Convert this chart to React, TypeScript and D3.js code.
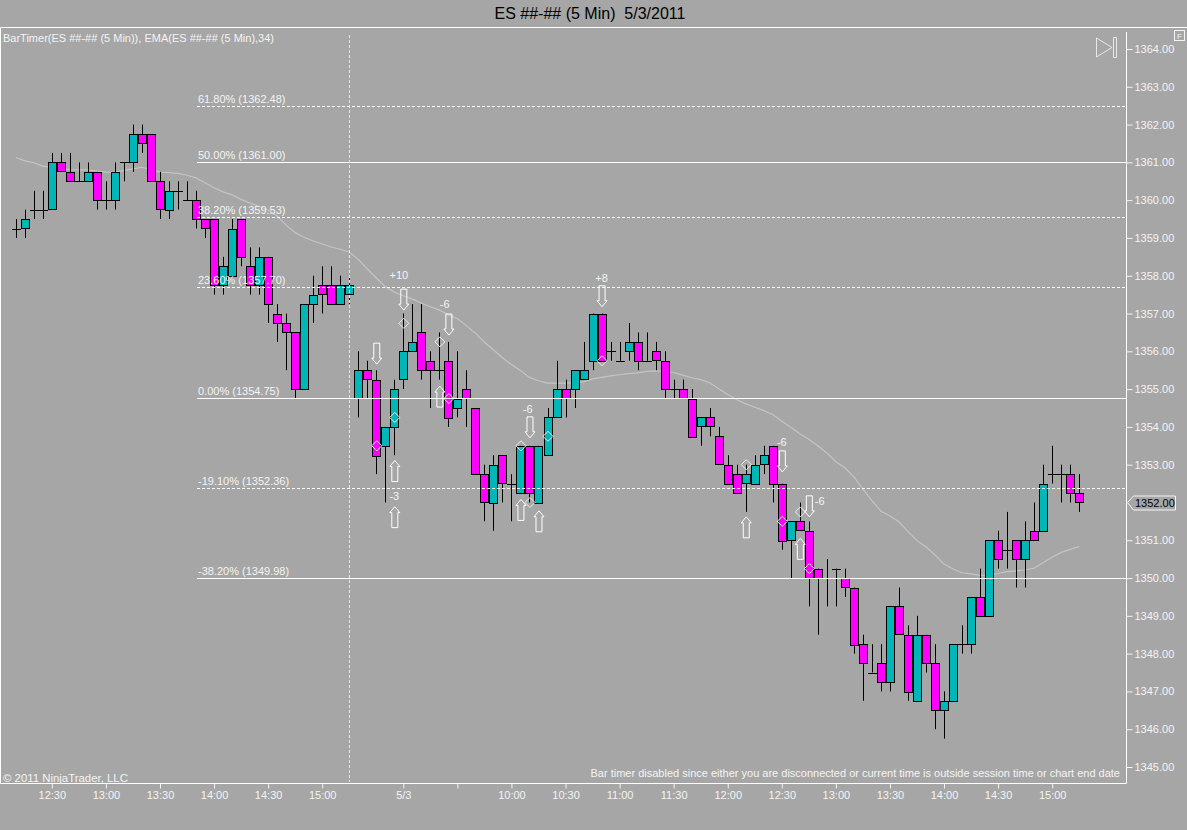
import { useRef, useEffect } from "react";
import * as d3 from "d3";

const opens = [
  1359.25, 1359.25, 1359.75, 1359.75, 1359.75, 1361, 1360.75, 1360.5, 1360.5, 1360.75,
  1360, 1360, 1361, 1361, 1361.75, 1361.75, 1360.5, 1359.75, 1360.25, 1360,
  1360, 1359.5, 1359.5, 1357.75, 1358, 1359.5, 1358.25, 1357.75, 1358.5, 1357,
  1356.75, 1356.5, 1355, 1357.25, 1357.75, 1357.75, 1357.25, 1357.5, 1354.75, 1355.5,
  1355.25, 1353.5, 1354, 1355.25, 1356, 1356.5, 1355.75, 1355.5, 1355.75, 1354.5,
  1355, 1354.5, 1352.75, 1352, 1353.25, 1352.5, 1352.25, 1353.5, 1352, 1353.25,
  1354.25, 1355, 1355, 1355.25, 1355.75, 1357, 1356, 1355.75, 1356, 1356.25,
  1355.75, 1356, 1355.75, 1355, 1355, 1354.75, 1354, 1354.25, 1353.75, 1353,
  1352.75, 1352.5, 1352.5, 1353, 1353.5, 1352.5, 1351, 1351.5, 1351.25, 1350.25,
  1350, 1350.25, 1350, 1349.75, 1348.25, 1347.5, 1347.75, 1347.25, 1349.25, 1348.5,
  1346.75, 1348.5, 1347.75, 1346.5, 1346.75, 1348.25, 1348.25, 1349.5, 1349, 1351,
  1350.75, 1351, 1350.5, 1351.25, 1351.25, 1352.75, 1352.75, 1352.75, 1352.25,
];

const closes = [
  1359.25, 1359.5, 1359.75, 1359.75, 1361, 1360.75, 1360.5, 1360.5, 1360.75, 1360,
  1360, 1360.75, 1361, 1361.75, 1361.5, 1360.5, 1359.75, 1360.25, 1360.25, 1360,
  1359.5, 1359.25, 1357.75, 1358.25, 1359.25, 1358.5, 1357.75, 1358.5, 1357.25, 1356.75,
  1356.5, 1355, 1357.25, 1357.5, 1357.5, 1357.25, 1357.75, 1357.75, 1355.5, 1355.25,
  1353.25, 1354, 1355, 1356, 1356.25, 1355.5, 1355.5, 1355.5, 1354.25, 1354.75,
  1354.75, 1352.75, 1352, 1353, 1352.5, 1352.5, 1353.5, 1352.25, 1353.5, 1354.25,
  1355, 1354.75, 1355.5, 1355.5, 1357, 1355.75, 1356, 1355.75, 1356.25, 1355.75,
  1355.75, 1355.75, 1355, 1355, 1354.75, 1353.75, 1354.25, 1354, 1353, 1352.5,
  1352.25, 1352.75, 1353, 1353.25, 1352.5, 1351, 1351.5, 1351.25, 1350, 1350,
  1350, 1350.25, 1349.75, 1348.25, 1347.75, 1347.5, 1347.25, 1349.25, 1348.5, 1347,
  1348.5, 1347.75, 1346.5, 1346.75, 1348.25, 1348.25, 1349.5, 1349, 1351, 1350.5,
  1350.75, 1350.5, 1351, 1351, 1352.5, 1352.75, 1352.75, 1352.25, 1352,
];

const highs = [
  1359.5, 1359.75, 1360.25, 1360.25, 1361.25, 1361.25, 1361.25, 1361, 1361, 1360.75,
  1360.5, 1361, 1361, 1362, 1362, 1361.75, 1360.75, 1360.5, 1360.5, 1360.5,
  1360.25, 1359.5, 1359.5, 1358.5, 1359.5, 1359.5, 1358.75, 1358.75, 1358.5, 1357.25,
  1357, 1356.5, 1357.25, 1358, 1358.25, 1358.25, 1358, 1358, 1356, 1355.75,
  1355.5, 1354, 1355.25, 1357, 1357.25, 1357.25, 1356, 1356.5, 1356.25, 1356,
  1355.5, 1354.5, 1353, 1353.25, 1353.25, 1352.75, 1353.5, 1353.5, 1353.5, 1354.5,
  1355.75, 1355.25, 1355.5, 1356.25, 1357, 1357, 1356.25, 1356.25, 1356.75, 1356.5,
  1356.5, 1356.25, 1356, 1355.25, 1355.25, 1355, 1354.25, 1354.5, 1354, 1353.25,
  1353, 1353, 1353.25, 1353.5, 1353.5, 1352.5, 1351.5, 1352, 1351.5, 1350.25,
  1350.5, 1350.25, 1350.25, 1349.75, 1348.5, 1348.25, 1348.25, 1349.25, 1349.75, 1348.75,
  1349, 1348.5, 1348.25, 1347, 1348.25, 1348.75, 1349.5, 1350.25, 1351, 1351.25,
  1351.75, 1351, 1351.5, 1352, 1353, 1353.5, 1353, 1353, 1352.75,
];

const lows = [
  1359, 1359, 1359.5, 1359.5, 1359.75, 1360.75, 1360.5, 1360.5, 1360.5, 1359.75,
  1359.75, 1359.75, 1360.5, 1360.75, 1361.25, 1360.5, 1359.5, 1359.5, 1359.75, 1360,
  1359.25, 1359, 1357.5, 1357.5, 1358, 1358.25, 1357.5, 1357.5, 1356.75, 1356.25,
  1355.5, 1354.75, 1355, 1356.75, 1357, 1357.25, 1357.25, 1357.25, 1354.25, 1354.75,
  1352.75, 1352, 1353.25, 1355, 1356, 1355.25, 1354.5, 1355.25, 1354, 1354.25,
  1354, 1352.75, 1351.5, 1351.25, 1352, 1351.5, 1352.25, 1352, 1352, 1353.25,
  1354.25, 1354.25, 1354.5, 1355.25, 1355.5, 1355.75, 1355.75, 1355.75, 1355.75, 1355.5,
  1355.75, 1355.5, 1354.75, 1354.75, 1354.75, 1353.75, 1353.5, 1353.75, 1353, 1352.5,
  1352.25, 1351.75, 1352.5, 1352.75, 1352, 1350.75, 1350, 1351.25, 1349.25, 1348.5,
  1349.25, 1349.25, 1349.5, 1348, 1346.75, 1347.5, 1347, 1347, 1348.5, 1346.75,
  1346.75, 1347.5, 1346, 1345.75, 1346.75, 1348, 1348, 1349, 1349, 1350.25,
  1350.25, 1349.75, 1349.75, 1351, 1351.25, 1352.5, 1352, 1352, 1351.75,
];

// EMA(34)
const ema = [
  1361.13, 1361.04, 1360.99, 1360.9, 1360.87, 1360.84, 1360.81, 1360.8, 1360.8, 1360.77,
  1360.74, 1360.73, 1360.79, 1360.83, 1360.87, 1360.81, 1360.74, 1360.73, 1360.71, 1360.66,
  1360.59, 1360.46, 1360.33, 1360.22, 1360.14, 1360.02, 1359.92, 1359.84, 1359.74, 1359.58,
  1359.34, 1359.14, 1359.02, 1358.92, 1358.84, 1358.76, 1358.7, 1358.63, 1358.43, 1358.18,
  1357.94, 1357.71, 1357.57, 1357.47, 1357.38, 1357.28, 1357.18, 1357.09, 1356.97, 1356.86,
  1356.68, 1356.48, 1356.24, 1356.04, 1355.83, 1355.65, 1355.49, 1355.31, 1355.22, 1355.16,
  1355.16, 1355.16, 1355.17, 1355.19, 1355.27, 1355.31, 1355.35, 1355.38, 1355.41, 1355.43,
  1355.47, 1355.48, 1355.46, 1355.44, 1355.37, 1355.3, 1355.25, 1355.17, 1355.01, 1354.86,
  1354.72, 1354.61, 1354.52, 1354.43, 1354.33, 1354.15, 1353.99, 1353.82, 1353.67, 1353.5,
  1353.31, 1353.08, 1352.92, 1352.68, 1352.35, 1352.05, 1351.77, 1351.64, 1351.49, 1351.23,
  1350.99, 1350.83, 1350.61, 1350.37, 1350.24, 1350.14, 1350.11, 1350.07, 1350.08, 1350.12,
  1350.17, 1350.19, 1350.22, 1350.26, 1350.41, 1350.55, 1350.68, 1350.76, 1350.83,
];

const priceTicks = [
  1364, 1363, 1362, 1361, 1360, 1359, 1358, 1357, 1356, 1355, 1354, 1353, 1351, 1350,
  1349, 1348, 1347, 1346, 1345,
];
const lastPrice = 1352;

const timeTickBars = [4, 10, 16, 22, 28, 34, 43, 49, 55, 61, 67, 73, 79, 85, 91, 97, 103, 109, 115];
const timeTickLabels = [
  "12:30", "13:00", "13:30", "14:00", "14:30", "15:00", "5/3", "", "10:00", "10:30",
  "11:00", "11:30", "12:00", "12:30", "13:00", "13:30", "14:00", "14:30", "15:00",
];

const fibLevels = [61.8, 50, 38.2, 23.6, 0, -19.1, -38.2];
const fibPrices = [1362.48, 1361, 1359.53, 1357.7, 1354.75, 1352.36, 1349.98];
const fibDashed = [true, false, true, true, false, true, false];

const downArrowBars = [40, 43, 48, 57, 65, 85, 88];
const downArrowPrices = [1355.66, 1357.09, 1356.43, 1353.71, 1357.18, 1352.81, 1351.62];
const upArrowBars = [42, 42, 47, 56, 58, 81, 87];
const upArrowPrices = [1353.11, 1351.89, 1355.08, 1352.08, 1351.78, 1351.62, 1351.05];
const diamondBars = [40, 42, 43, 47, 48, 56, 57, 59, 65, 81, 85, 87, 88];
const diamondPrices = [
  1353.5, 1354.25, 1356.74, 1356.25, 1354.75, 1353.5, 1352, 1353.75, 1355.75, 1353, 1351.5,
  1351.75, 1350.25,
];
const tradeLabels = ["+10", "-6", "-3", "-6", "+8", "-6", "-6"];
const tradeLabelBars = [42.5, 47.6, 42, 56.8, 65, 85, 89.2];
const tradeLabelPrices = [1358.01, 1357.25, 1352.17, 1354.47, 1357.94, 1353.6, 1352.04];

const BG = "#a6a6a6";
const TEXT = "#f4f4f4";
const CYAN = "#00b7b7";
const MAGENTA = "#ff00ff";
const FONT_SIZE = 11;

const App = () => {
  const chartRef = useRef<SVGSVGElement>(null);

  useEffect(() => {
    if (!chartRef.current) {
      return;
    }
    const svg = d3.select(chartRef.current);
    svg.selectAll("*").remove();

    const x = d3.scaleLinear().domain([0, 118]).range([15.8, 1079.2]);
    const y = d3.scaleLinear().domain([1364, 1345]).range([49, 767]);
    const font = "'Liberation Sans', Arial, sans-serif";

    const addText = (tx: number, ty: number, s: string, anchor = "start") =>
      svg
        .append("text")
        .attr("x", tx)
        .attr("y", ty)
        .attr("text-anchor", anchor)
        .attr("font-family", font)
        .attr("font-size", FONT_SIZE)
        .attr("fill", TEXT)
        .text(s);

    svg.append("rect").attr("width", 1187).attr("height", 830).attr("fill", BG);

    addText(590, 18.5, "ES ##-## (5 Min)  5/3/2011", "middle")
      .attr("font-size", 16)
      .attr("fill", "#000")
      .style("white-space", "pre");

    // frame of the panel
    svg
      .append("path")
      .attr("d", "M0.5,784V27.5H1187M0,783.5H1126.5V32")
      .attr("fill", "none")
      .attr("stroke", "#fff");

    // F box and the jump-to-end button
    svg
      .append("rect")
      .attr("x", 1174.5)
      .attr("y", 30.5)
      .attr("width", 10)
      .attr("height", 10)
      .attr("fill", "none")
      .attr("stroke", "#f4f4f4");
    addText(1179.5, 39, "F", "middle").attr("font-size", 8);
    svg
      .append("path")
      .attr("d", "M1096.5,38L1112,47.5L1096.5,57ZM1113.5,37.5h3v20h-3Z")
      .attr("fill", "none")
      .attr("stroke", "#e8e8e8");

    // EMA sits behind the candles
    const emaLine = d3
      .line<number>()
      .x((_, i) => x(i))
      .y((d) => y(d));
    svg
      .append("path")
      .attr("d", emaLine(ema))
      .attr("fill", "none")
      .attr("stroke", "#c4c4c4")
      .attr("stroke-width", 1.2);

    const bars = svg.append("g").selectAll("g").data(d3.range(opens.length)).join("g");

    // wicks
    bars
      .append("line")
      .attr("x1", (d) => Math.round(x(d)) + 0.5)
      .attr("x2", (d) => Math.round(x(d)) + 0.5)
      .attr("y1", (d) => y(highs[d]))
      .attr("y2", (d) => y(lows[d]))
      .attr("stroke", "#000");

    // bodies
    bars
      .filter((d) => opens[d] !== closes[d])
      .append("rect")
      .attr("x", (d) => Math.round(x(d)) - 3.5)
      .attr("width", 8)
      .attr("y", (d) => Math.round(y(Math.max(opens[d], closes[d]))) + 0.5)
      .attr("height", (d) => Math.round(Math.abs(y(opens[d]) - y(closes[d]))))
      .attr("fill", (d) => (closes[d] > opens[d] ? CYAN : MAGENTA))
      .attr("stroke", "#000");

    // a flat bar is a plain dash
    bars
      .filter((d) => opens[d] === closes[d])
      .append("line")
      .attr("x1", (d) => Math.round(x(d)) - 4)
      .attr("x2", (d) => Math.round(x(d)) + 5)
      .attr("y1", (d) => Math.round(y(opens[d])) + 0.5)
      .attr("y2", (d) => Math.round(y(opens[d])) + 0.5)
      .attr("stroke", "#000");

    // fib retracement levels
    const fib = svg.append("g").selectAll("g").data(fibPrices).join("g");
    fib
      .append("line")
      .attr("x1", 197)
      .attr("x2", 1126)
      .attr("y1", (d) => Math.floor(y(d)) + 0.5)
      .attr("y2", (d) => Math.floor(y(d)) + 0.5)
      .attr("stroke", "#fff")
      .attr("stroke-dasharray", (_, i) => (fibDashed[i] ? "3,2" : null));
    fib
      .append("text")
      .attr("x", 198)
      .attr("y", (d) => y(d) - 3.5)
      .attr("font-family", font)
      .attr("font-size", FONT_SIZE)
      .attr("fill", TEXT)
      .text((d, i) => `${fibLevels[i].toFixed(2)}% (${d.toFixed(2)})`);

    // session break
    svg
      .append("line")
      .attr("x1", 349.5)
      .attr("x2", 349.5)
      .attr("y1", 35)
      .attr("y2", 782)
      .attr("stroke", "#e8e8e8")
      .attr("stroke-dasharray", "3,2");

    // entries and exits
    const arrowDown = "M0,0L-5,-6H-3V-21H3V-6H5Z";
    const arrowUp = "M0,0L-5,6H-3V21H3V6H5Z";
    svg
      .append("g")
      .selectAll("path")
      .data(downArrowBars)
      .join("path")
      .attr("transform", (d, i) => `translate(${x(d) + 0.5},${y(downArrowPrices[i])})`)
      .attr("d", arrowDown)
      .attr("fill", "none")
      .attr("stroke", "#fff");
    svg
      .append("g")
      .selectAll("path")
      .data(upArrowBars)
      .join("path")
      .attr("transform", (d, i) => `translate(${x(d) + 0.5},${y(upArrowPrices[i])})`)
      .attr("d", arrowUp)
      .attr("fill", "none")
      .attr("stroke", "#fff");
    svg
      .append("g")
      .selectAll("path")
      .data(diamondBars)
      .join("path")
      .attr("transform", (d, i) => `translate(${x(d) + 0.5},${y(diamondPrices[i])})`)
      .attr("d", "M0,-5L5,0L0,5L-5,0Z")
      .attr("fill", "none")
      .attr("stroke", "#f0f0f0");
    tradeLabels.forEach((s, i) => {
      addText(x(tradeLabelBars[i]), y(tradeLabelPrices[i]) + 4, s, "middle");
    });

    // axes
    const yAxis = svg
      .append("g")
      .attr("transform", "translate(1126.5,0)")
      .call(d3.axisRight(y).tickValues(priceTicks).tickFormat((d) => (+d).toFixed(2)).tickSize(6).tickPadding(2));
    const xAxis = svg
      .append("g")
      .attr("transform", "translate(0,783.5)")
      .call(
        d3
          .axisBottom(x)
          .tickValues(timeTickBars)
          .tickFormat((_, i) => timeTickLabels[i])
          .tickSize(5)
          .tickPadding(3)
      );
    [yAxis, xAxis].forEach((axis) => {
      axis.select(".domain").remove();
      axis.selectAll("line").attr("stroke", "#f4f4f4");
      axis
        .selectAll("text")
        .attr("fill", TEXT)
        .attr("font-family", font)
        .attr("font-size", FONT_SIZE);
    });

    // last price marker
    const ly = Math.round(y(lastPrice)) + 0.5;
    svg
      .append("path")
      .attr("d", `M1127.5,${ly}l6,-6.5h42v14h-42Z`)
      .attr("fill", BG)
      .attr("stroke", "#f4f4f4");
    addText(1135, ly + 4, lastPrice.toFixed(2)).attr("fill", "#000");

    addText(3, 41.5, "BarTimer(ES ##-## (5 Min)), EMA(ES ##-## (5 Min),34)");
    addText(3, 781.5, "© 2011 NinjaTrader, LLC").attr("font-size", 11.4);
    addText(
      1120,
      776.5,
      "Bar timer disabled since either you are disconnected or current time is outside session time or chart end date",
      "end"
    );
  }, []);

  return (
    <svg
      ref={chartRef}
      width="1187"
      height="830"
      style={{ position: "absolute", left: 0, top: 0, display: "block" }}
    ></svg>
  );
};

export default App;
